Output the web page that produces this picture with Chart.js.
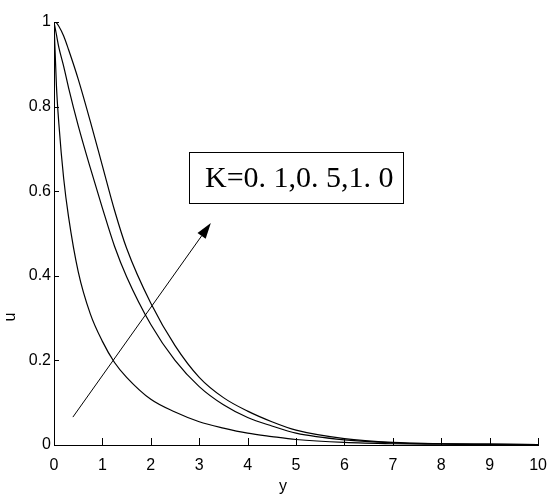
<!DOCTYPE html>
<html>
<head>
<meta charset="utf-8">
<script src="https://cdn.jsdelivr.net/npm/chart.js@4.4.1/dist/chart.umd.min.js"></script>
<style>
  html, body { margin: 0; padding: 0; background: #fff; }
  canvas { display: block; }
</style>
</head>
<body>
<canvas id="grafik" width="558" height="497"></canvas>
<script>
// sumbu y (eta) dan nilai u tiap kurva
const yVals = [0, 0.05, 0.1, 0.2, 0.3, 0.5, 0.75, 1, 1.25, 1.5, 2, 2.5, 3, 3.5, 4, 4.5, 5, 6, 7, 8, 9, 10];
const uK1 = [1, 0.85, 0.76, 0.63, 0.54, 0.41, 0.31, 0.245, 0.195, 0.16, 0.108, 0.078, 0.055, 0.04, 0.028, 0.02, 0.013, 0.006, 0.003, 0.002, 0.001, 0.001];
const uK2 = [1, 0.97, 0.94, 0.895, 0.845, 0.755, 0.655, 0.56, 0.47, 0.398, 0.285, 0.2, 0.138, 0.095, 0.065, 0.045, 0.028, 0.012, 0.005, 0.003, 0.002, 0.001];
const uK3 = [1, 0.998, 0.99, 0.967, 0.935, 0.865, 0.765, 0.66, 0.555, 0.465, 0.335, 0.235, 0.16, 0.112, 0.08, 0.055, 0.035, 0.015, 0.006, 0.003, 0.002, 0.001];
const xTicks = [0, 1, 2, 3, 4, 5, 6, 7, 8, 9, 10];
const uTicks = [0, 0.2, 0.4, 0.6, 0.8, 1];
const labelK = "K=0. 1,0. 5,1. 0";
const judulX = "y";
const judulY = "u";
// panah: dari (0.39, 0.066) ke (3.22, 0.522) dalam satuan data
const panahDari = [0.39, 0.066];
const panahKe = [3.24, 0.525];

function titik(us) {
  return yVals.map((v, i) => ({ x: v, y: us[i] }));
}

function datasetKurva(us) {
  return {
    data: titik(us),
    borderColor: "#000",
    borderWidth: 1.2,
    pointRadius: 0,
    fill: false,
    cubicInterpolationMode: "monotone"
  };
}

// ticks ke dalam, judul sumbu, panah dan kotak label
const hiasan = {
  id: "hiasan",
  afterDatasetsDraw(chart) {
    const { ctx, scales: { x, y } } = chart;
    ctx.save();
    ctx.strokeStyle = "#000";
    ctx.lineWidth = 1;
    xTicks.forEach(t => {
      const px = Math.round(x.getPixelForValue(t)) + 0.5;
      ctx.beginPath();
      ctx.moveTo(px, y.bottom);
      ctx.lineTo(px, y.bottom - 7);
      ctx.stroke();
    });
    uTicks.forEach(t => {
      const py = Math.round(y.getPixelForValue(t)) + 0.5;
      ctx.beginPath();
      ctx.moveTo(x.left, py);
      ctx.lineTo(x.left + 5, py);
      ctx.stroke();
    });

    // judul sumbu (posisinya seperti di gambar asli, tidak di tengah)
    ctx.fillStyle = "#000";
    ctx.font = "16px 'Liberation Sans', Arial, sans-serif";
    ctx.textAlign = "center";
    ctx.textBaseline = "middle";
    ctx.fillText(judulX, 283, 487);
    ctx.save();
    ctx.translate(11, 317);
    ctx.rotate(-Math.PI / 2);
    ctx.fillText(judulY, 0, 0);
    ctx.restore();

    // panah
    const x0 = x.getPixelForValue(panahDari[0]), y0 = y.getPixelForValue(panahDari[1]);
    const x1 = x.getPixelForValue(panahKe[0]), y1 = y.getPixelForValue(panahKe[1]);
    const ang = Math.atan2(y1 - y0, x1 - x0);
    const kepala = 16, lebar = 5;
    const bx = x1 - kepala * Math.cos(ang), by = y1 - kepala * Math.sin(ang);
    ctx.beginPath();
    ctx.moveTo(x0, y0);
    ctx.lineTo(bx, by);
    ctx.stroke();
    ctx.beginPath();
    ctx.moveTo(x1, y1);
    ctx.lineTo(bx + lebar * Math.sin(ang), by - lebar * Math.cos(ang));
    ctx.lineTo(bx - lebar * Math.sin(ang), by + lebar * Math.cos(ang));
    ctx.closePath();
    ctx.fill();

    // kotak label K
    ctx.font = "30px 'Liberation Serif', 'Times New Roman', serif";
    ctx.textBaseline = "alphabetic";
    ctx.textAlign = "left";
    ctx.fillText(labelK, 205, 187);
    ctx.strokeRect(189.5, 152.5, 214, 51);
    ctx.restore();
  }
};

const ctx = document.getElementById("grafik").getContext("2d");
new Chart(ctx, {
  type: "line",
  data: {
    datasets: [datasetKurva(uK1), datasetKurva(uK2), datasetKurva(uK3)]
  },
  options: {
    responsive: false,
    animation: false,
    layout: { padding: { top: 22, right: 14, left: 0, bottom: 0 } },
    plugins: {
      legend: { display: false },
      tooltip: { enabled: false }
    },
    scales: {
      x: {
        type: "linear",
        min: 0,
        max: 10,
        afterBuildTicks: s => { s.ticks = xTicks.map(v => ({ value: v })); },
        afterFit: s => { s.height = 52; },
        grid: { display: false, drawTicks: false },
        border: { display: true, color: "#000", width: 1 },
        ticks: {
          color: "#000",
          padding: 11,
          maxRotation: 0,
          font: { family: "'Liberation Sans', Arial, sans-serif", size: 16 }
        }
      },
      y: {
        type: "linear",
        min: 0,
        max: 1,
        afterBuildTicks: s => { s.ticks = uTicks.map(v => ({ value: v })); },
        afterFit: s => { s.width = 54; },
        grid: { display: false, drawTicks: false },
        border: { display: true, color: "#000", width: 1 },
        ticks: {
          color: "#000",
          padding: 3,
          callback: v => String(v),
          font: { family: "'Liberation Sans', Arial, sans-serif", size: 16 }
        }
      }
    }
  },
  plugins: [hiasan]
});
</script>
</body>
</html>
